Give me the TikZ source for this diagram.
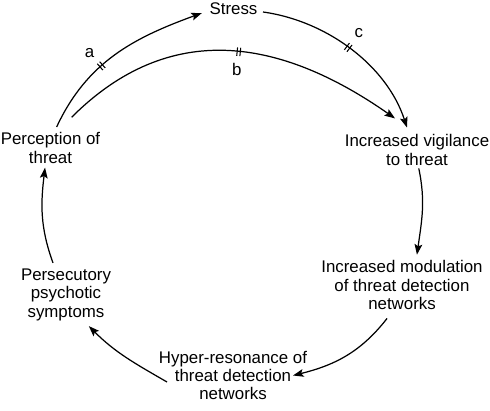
\documentclass[tikz,border=0pt]{standalone}
\usepackage{fontspec}
\setmainfont{Liberation Sans}
\usetikzlibrary{positioning,arrows.meta,decorations.markings}
\tikzset{
  flowarrow/.style={-{Stealth[length=6pt, width=4.4pt, inset=1.2pt]}, line width=0.7pt},
  stage/.style={align=center, inner sep=3pt, font=\fontsize{9.6}{10.5}\selectfont},
  gate/.style n args={3}{postaction={decorate, decoration={markings,
      mark=at position #1 with {
        \draw[-, line width=0.6pt] (-0.9pt,-2.4pt) -- (-0.9pt,2.4pt) (0.9pt,-2.4pt) -- (0.9pt,2.4pt);
        \node[stage, inner sep=0pt] (gate#2) at (0,#3) {#2};}}}}
}
\begin{document}
\begin{tikzpicture}[x=0.02cm, y=0.02cm]
  \useasboundingbox (0,0) rectangle (490,410);
  % stages of the loop
  \node[stage] (stress) at (233.5,401) {Stress};
  \node[stage] (perc) at (50.5,262) {Perception of\\threat};
  \node[stage] (vig) at (417,260) {Increased vigilance\\to threat};
  \node[stage] (mod) at (402,125) {Increased modulation\\of threat detection\\networks};
  \node[stage] (hyper) at (233,34.5) {Hyper-resonance of\\threat detection\\networks};
  \node[stage] (pers) at (66,115.5) {Persecutory\\psychotic\\symptoms};
  % upper arcs
  \draw[flowarrow, gate={0.4}{a}{10pt}] ([xshift=3.5pt]perc.north) to[out=65, in=200] ([xshift=-1.2pt, yshift=-2.3pt]stress.west);
  \draw[flowarrow, gate={0.52}{b}{-10pt}] ([xshift=12pt, yshift=5.5pt]perc.north) to[out=45, in=145, looseness=1.1] ([xshift=-12.5pt, yshift=6pt]vig.north);
  \draw[flowarrow, gate={0.48}{c}{10pt}] ([yshift=-1.7pt]stress.east) to[out=-8, in=108, looseness=0.9] ([xshift=-5.7pt, yshift=0.8pt]vig.north);
  % lower arcs
  \draw[flowarrow] ([xshift=1pt, yshift=1.5pt]vig.south) to[out=-78, in=82] ([xshift=8.5pt]mod.north);
  \draw[flowarrow] ([xshift=-8.5pt, yshift=-1.8pt]mod.south) to[out=-128, in=14] ([xshift=-11.2pt]hyper.east);
  \draw[flowarrow] ([xshift=7.8pt, yshift=-3.7pt]hyper.west) to[out=150, in=-45] ([xshift=13pt]pers.south);
  \draw[flowarrow] ([xshift=-7.4pt]pers.north) to[out=110, in=-97] ([xshift=-3.1pt, yshift=0.8pt]perc.south);
\end{tikzpicture}
\end{document}
